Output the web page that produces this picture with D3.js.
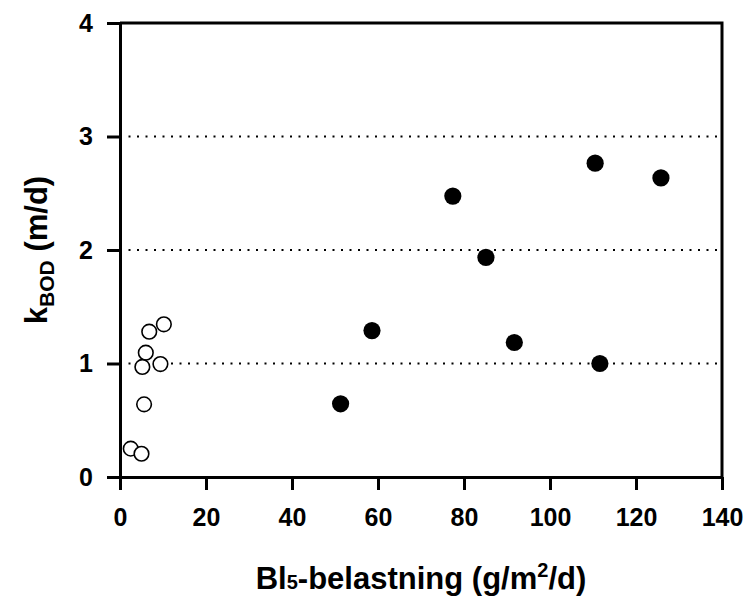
<!DOCTYPE html>
<html>
<head>
<meta charset="utf-8">
<script src="https://cdn.jsdelivr.net/npm/d3@7"></script>
<style>
  body { margin: 0; background: #fff; }
  svg { font-family: Arial, "Liberation Sans", sans-serif; font-weight: bold; }
</style>
</head>
<body>
<div id="chart"></div>
<script>
// open circles (low load)
const openX = [10.2, 6.8, 6.0, 5.2, 9.4, 5.6, 2.5, 5.0];
const openY = [1.345, 1.28, 1.095, 0.97, 0.995, 0.64, 0.25, 0.205];
// filled circles (high load)
const fillX = [77.4, 58.6, 51.3, 110.5, 125.8, 85.1, 91.7, 111.6];
const fillY = [2.475, 1.29, 0.645, 2.765, 2.635, 1.935, 1.185, 1.0];

const xTicks = [0, 20, 40, 60, 80, 100, 120, 140];
const yTicks = [0, 1, 2, 3, 4];
const gridLevels = [1, 2, 3];

const W = 747, H = 597;
const margin = { top: 23, right: 25, bottom: 120, left: 120 };
const innerW = W - margin.left - margin.right;
const innerH = H - margin.top - margin.bottom;

const svg = d3.select("#chart").append("svg")
  .attr("width", W).attr("height", H);

const g = svg.append("g")
  .attr("transform", `translate(${margin.left},${margin.top})`);

const x = d3.scaleLinear().domain([0, 140]).range([0, innerW]);
const y = d3.scaleLinear().domain([0, 4]).range([innerH, 0]);

// dotted grid lines
g.selectAll(".grid").data(gridLevels).enter().append("line")
  .attr("x1", 0).attr("x2", innerW)
  .attr("y1", d => y(d)).attr("y2", d => y(d))
  .attr("stroke", "#000").attr("stroke-width", 2)
  .attr("stroke-dasharray", "2,6.5");

// frame (top + right)
g.append("path")
  .attr("d", `M0,0H${innerW}V${innerH}`)
  .attr("fill", "none").attr("stroke", "#000").attr("stroke-width", 3);

// axes
const xAxis = g.append("g")
  .attr("transform", `translate(0,${innerH})`)
  .call(d3.axisBottom(x).tickValues(xTicks).tickFormat(d3.format("d"))
    .tickSize(13).tickSizeOuter(0).tickPadding(18));
const yAxis = g.append("g")
  .call(d3.axisLeft(y).tickValues(yTicks).tickFormat(d3.format("d"))
    .tickSize(13).tickSizeOuter(0).tickPadding(14));

[xAxis, yAxis].forEach(a => {
  a.select(".domain").attr("stroke-width", 3);
  a.selectAll(".tick line").attr("stroke-width", 3);
  a.selectAll(".tick text").style("font-size", "25px").style("font-weight", "bold")
    .style("font-family", "Arial, 'Liberation Sans', sans-serif").attr("fill", "#000");
});

// points
g.selectAll(".open").data(openX).enter().append("circle")
  .attr("cx", d => x(d)).attr("cy", (d, i) => y(openY[i]))
  .attr("r", 7.3).attr("fill", "#fff").attr("stroke", "#000").attr("stroke-width", 1.6);

g.selectAll(".filled").data(fillX).enter().append("circle")
  .attr("cx", d => x(d)).attr("cy", (d, i) => y(fillY[i]))
  .attr("r", 8.6).attr("fill", "#000");

// x title
const xt = svg.append("text")
  .attr("x", 421).attr("y", 589)
  .attr("text-anchor", "middle").style("font-size", "31px");
xt.append("tspan").text("Bl");
xt.append("tspan").style("font-size", "20px").text("5");
xt.append("tspan").text("-belastning (g/m");
xt.append("tspan").style("font-size", "20px").attr("dy", -12).text("2");
xt.append("tspan").attr("dy", 12).text("/d)");

// y title
const yt = svg.append("text")
  .attr("transform", `translate(47,250) rotate(-90)`)
  .attr("text-anchor", "middle").style("font-size", "31px");
yt.append("tspan").text("k");
yt.append("tspan").style("font-size", "21px").attr("dy", 7).text("BOD");
yt.append("tspan").attr("dy", -7).text(" (m/d)");
</script>
</body>
</html>
